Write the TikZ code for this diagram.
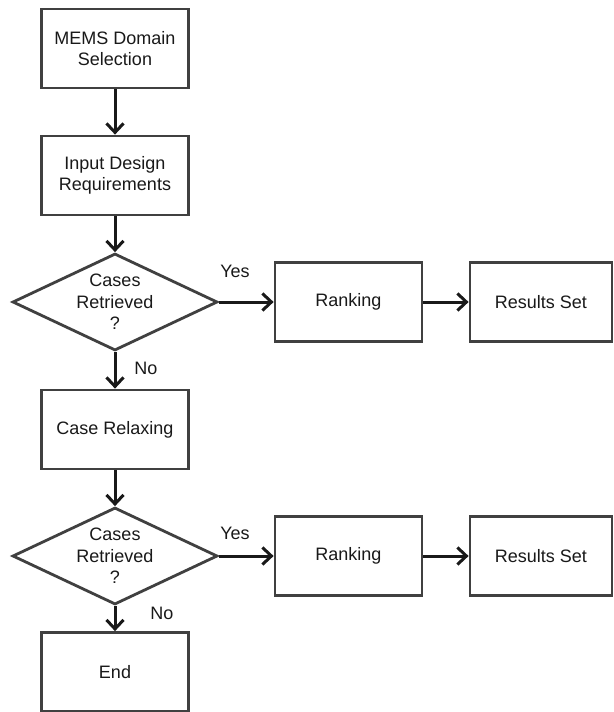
\documentclass[tikz,border=0pt]{standalone}
\usepackage{fontspec}
\setmainfont{Liberation Sans}
\usepackage{tikz}
\usetikzlibrary{positioning,shapes.geometric,arrows.meta}

\tikzset{
  stepbox/.style={draw=black!75,line width=2.8pt,fill=white,minimum width=147pt,minimum height=79pt,align=center,inner sep=0pt},
  query/.style={draw=black!75,line width=2.8pt,fill=white,diamond,aspect=2.1,minimum width=205pt,minimum height=97pt,align=center,inner sep=0pt},
  flow/.style={draw=black!90,line width=3pt,-{Straight Barb[length=9pt,width=17pt]}},
  answer/.style={inner sep=0pt}
}

\begin{document}
\begin{tikzpicture}[x=1pt,y=-1pt,font=\fontsize{18}{21.5}\selectfont,text=black!90]
  \useasboundingbox (0,0) rectangle (613,712);

  \node[stepbox] at(115,48.5)(domain){MEMS Domain\\Selection};
  \node[stepbox] at(115,175.5)(input){Input Design\\Requirements};
  \node[query] at(115,302)(cases1){Cases\\Retrieved\\?};
  \node[stepbox] at(348.5,302)(ranking1){Ranking};
  \node[stepbox,minimum width=142pt] at(541,302)(results1){Results Set};
  \node[stepbox] at(115,429.5)(relax){Case Relaxing};
  \node[query] at(115,556)(cases2){Cases\\Retrieved\\?};
  \node[stepbox] at(348.5,556)(ranking2){Ranking};
  \node[stepbox,minimum width=142pt] at(541,556)(results2){Results Set};
  \node[stepbox] at(115,672)(end){End};

  \node[answer] at(235,271)(yes1){Yes};
  \node[answer] at(146,368)(no1){No};
  \node[answer] at(235,533)(yes2){Yes};
  \node[answer] at(162,613)(no2){No};

  \draw [flow](domain) -- (input);
  \draw [flow](input) -- (cases1);
  \draw [flow](cases1.east) -- (ranking1);
  \draw [flow](ranking1) -- (results1);
  \draw [flow](cases1.south) -- (relax);
  \draw [flow](relax) -- (cases2);
  \draw [flow](cases2.east) -- (ranking2);
  \draw [flow](ranking2) -- (results2);
  \draw [flow](cases2.south) -- (end);

\end{tikzpicture}
\end{document}
